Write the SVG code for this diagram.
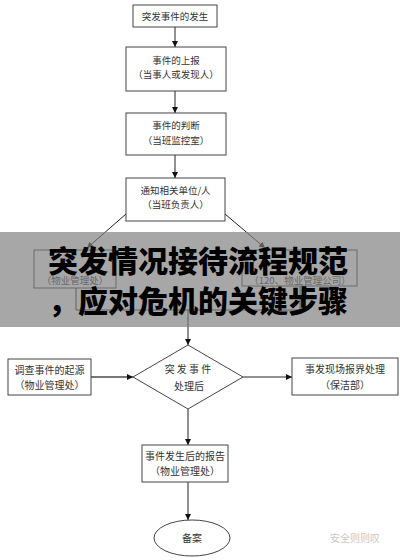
<svg xmlns="http://www.w3.org/2000/svg" width="400" height="560" viewBox="0 0 400 560">
<defs>
<marker id="ah" viewBox="0 0 10 10" refX="10" refY="5" markerWidth="6" markerHeight="6" orient="auto" markerUnits="userSpaceOnUse">
<path d="M0,0 L10,5 L0,10 z" fill="#111"/>
</marker>
</defs>
<style>
.box{fill:#fff;stroke:#444;stroke-width:1}
.t{font-family:"Noto Sans CJK SC","Liberation Serif",serif;font-size:9.5px;fill:#333;text-anchor:middle}
.t2{font-family:"Noto Sans CJK SC","Liberation Serif",serif;font-size:10px;fill:#333;text-anchor:middle}
.c{stroke:#222;stroke-width:1;fill:none}
.ttl{font-family:"Noto Sans CJK SC",sans-serif;font-size:30px;font-weight:900;fill:#000;text-anchor:middle}
</style>
<rect width="400" height="560" fill="#fff"/>
<g id="connectors">
<line class="c" x1="175" y1="27" x2="175" y2="47" marker-end="url(#ah)"/>
<line class="c" x1="175" y1="91" x2="175" y2="113" marker-end="url(#ah)"/>
<line class="c" x1="175" y1="155" x2="175" y2="178" marker-end="url(#ah)"/>
<line class="c" x1="126" y1="214" x2="87" y2="248" marker-end="url(#ah)"/>
<line class="c" x1="225" y1="214" x2="265" y2="248" marker-end="url(#ah)"/>
<polyline class="c" points="76,288 76,310 300,310 300,286"/>
<line class="c" x1="188" y1="310" x2="188" y2="345" marker-end="url(#ah)"/>
<line x1="91" y1="377" x2="133" y2="377" stroke="#777" stroke-width="2" marker-end="url(#ah)"/>
<line class="c" x1="243" y1="377" x2="292" y2="377" marker-end="url(#ah)"/>
<line class="c" x1="188" y1="409" x2="188" y2="445" marker-end="url(#ah)"/>
<line class="c" x1="188" y1="482" x2="188" y2="520" marker-end="url(#ah)"/>
</g>
<g id="n1"><rect class="box" x="133" y="5" width="84" height="22"/><text class="t" x="175" y="19.5">突发事件的发生</text></g>
<g id="n2"><rect class="box" x="126" y="47" width="100" height="44"/><text class="t" x="176" y="64">事件的上报</text><text class="t" x="176" y="78">（当事人或发现人）</text></g>
<g id="n3"><rect class="box" x="126" y="113" width="100" height="42"/><text class="t" x="176" y="129">事件的判断</text><text class="t" x="176" y="144">（当班监控室）</text></g>
<g id="n4"><rect class="box" x="126" y="178" width="99" height="43"/><text class="t" x="175.5" y="194">通知相关单位/人</text><text class="t" x="175.5" y="208">（当班负责人）</text></g>
<g id="n5"><rect class="box" x="34" y="250" width="82" height="38"/><text class="t" x="75" y="284" font-size="9">（物业管理处）</text></g>
<g id="n6"><rect class="box" x="242" y="250" width="115" height="36"/><text class="t" x="300" y="284" font-size="9">（120、物业管理公司）</text></g>
<g id="n7"><polygon class="box" points="188,345 243,377 188,409 133,377"/><text class="t2" x="188" y="373">突 发 事 件</text><text class="t2" x="189" y="390">处理后</text></g>
<g id="n8"><rect class="box" x="8" y="359" width="83" height="36"/><text class="t2" x="49.5" y="374">调查事件的起源</text><text class="t2" x="49.5" y="389">（物业管理处）</text></g>
<g id="n9"><rect class="box" x="292" y="358" width="106" height="37"/><text class="t2" x="345" y="373">事发现场报界处理</text><text class="t2" x="345" y="389">（保洁部）</text></g>
<g id="n10"><rect class="box" x="142" y="445" width="86" height="37"/><text class="t2" x="185" y="460">事件发生后的报告</text><text class="t2" x="185" y="475">（物业管理处）</text></g>
<g id="n11"><ellipse class="box" cx="192" cy="538" rx="38" ry="18"/><text class="t2" x="192" y="542">备案</text></g>
<g id="band">
<rect x="0" y="232" width="400" height="95" fill="#7d7d7d" fill-opacity="0.68"/>
<text class="ttl" x="198" y="272">突发情况接待流程规范</text>
<text class="ttl" x="198" y="312">，应对危机的关键步骤</text>
</g>
<g id="watermark"><text x="355" y="542" font-family="'Noto Sans CJK SC',sans-serif" font-size="10" fill="#c8c8c8" text-anchor="middle">安全则则叹</text></g>
</svg>
